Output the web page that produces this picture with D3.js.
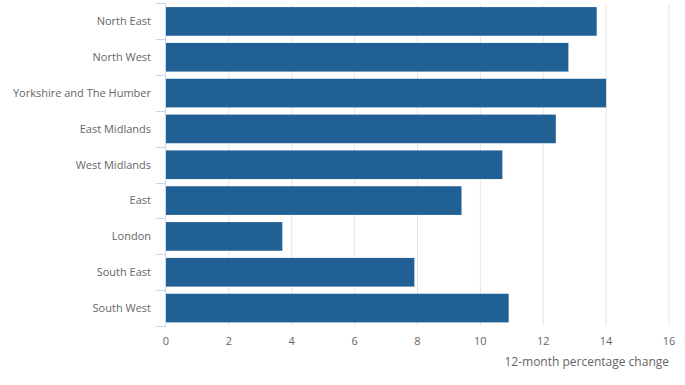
<!DOCTYPE html>
<html>
<head>
<meta charset="utf-8">
<script src="https://cdn.jsdelivr.net/npm/d3@7"></script>
<style>
  body { margin: 0; background: #fff; }
  text { font-family: "Open Sans", sans-serif; }
</style>
</head>
<body>
<div id="chart"></div>
<script>
// regions and their 12-month percentage change
var regions = ["North East", "North West", "Yorkshire and The Humber", "East Midlands",
  "West Midlands", "East", "London", "South East", "South West"];
var changes = [13.7, 12.8, 14.0, 12.4, 10.7, 9.4, 3.7, 7.9, 10.9];
var xTicks = [0, 2, 4, 6, 8, 10, 12, 14, 16];
var xTitle = "12-month percentage change";

var width = 685, height = 385;
var margin = {top: 3.5, right: 16, bottom: 59, left: 166};

var svg = d3.select("#chart").append("svg")
  .attr("width", width)
  .attr("height", height);

var x = d3.scaleLinear().domain([0, 16]).range([margin.left, width - margin.right]);
var y = d3.scaleBand().domain(regions)
  .range([margin.top, height - margin.bottom])
  .paddingInner(0.2).paddingOuter(0.1);

//vertical gridlines
svg.append("g").selectAll("line")
  .data(xTicks.slice(1))
  .enter().append("line")
  .attr("x1", function(d) { return x(d); })
  .attr("x2", function(d) { return x(d); })
  .attr("y1", margin.top)
  .attr("y2", height - margin.bottom)
  .attr("stroke", "#e6e6e6")
  .attr("stroke-width", 1);

// bars
svg.append("g").selectAll("rect")
  .data(regions)
  .enter().append("rect")
  .attr("x", x(0))
  .attr("y", function(d) { return y(d); })
  .attr("width", function(d, i) { return x(changes[i]) - x(0); })
  .attr("height", y.bandwidth())
  .attr("fill", "#206095");

// category axis: line plus ticks on band edges
var yAxis = svg.append("g");
yAxis.append("line")
  .attr("x1", x(0) - 0.5).attr("x2", x(0) - 0.5)
  .attr("y1", margin.top).attr("y2", height - margin.bottom)
  .attr("stroke", "#ccd6eb");

var edges = regions.map(function(d) { return y(d) - y.step() * y.paddingInner() / 2; });
edges.push(height - margin.bottom);
yAxis.selectAll(".tick")
  .data(edges)
  .enter().append("line")
  .attr("x1", x(0) - 10).attr("x2", x(0))
  .attr("y1", function(d) { return Math.round(d) + 0.5; })
  .attr("y2", function(d) { return Math.round(d) + 0.5; })
  .attr("stroke", "#ccd6eb");

yAxis.selectAll("text")
  .data(regions)
  .enter().append("text")
  .attr("x", x(0) - 15)
  .attr("y", function(d) { return y(d) + y.bandwidth() / 2; })
  .attr("dy", "0.35em")
  .attr("text-anchor", "end")
  .attr("font-size", 11)
  .attr("fill", "#666666")
  .text(function(d) { return d; });

// value axis labels
svg.append("g").selectAll("text")
  .data(xTicks)
  .enter().append("text")
  .attr("x", function(d) { return x(d); })
  .attr("y", height - margin.bottom + 19)
  .attr("text-anchor", "middle")
  .attr("font-size", 11)
  .attr("fill", "#666666")
  .text(function(d) { return d; });

svg.append("text")
  .attr("x", x(16))
  .attr("y", height - margin.bottom + 40)
  .attr("text-anchor", "end")
  .attr("font-size", 12)
  .attr("fill", "#666666")
  .text(xTitle);
</script>
</body>
</html>
